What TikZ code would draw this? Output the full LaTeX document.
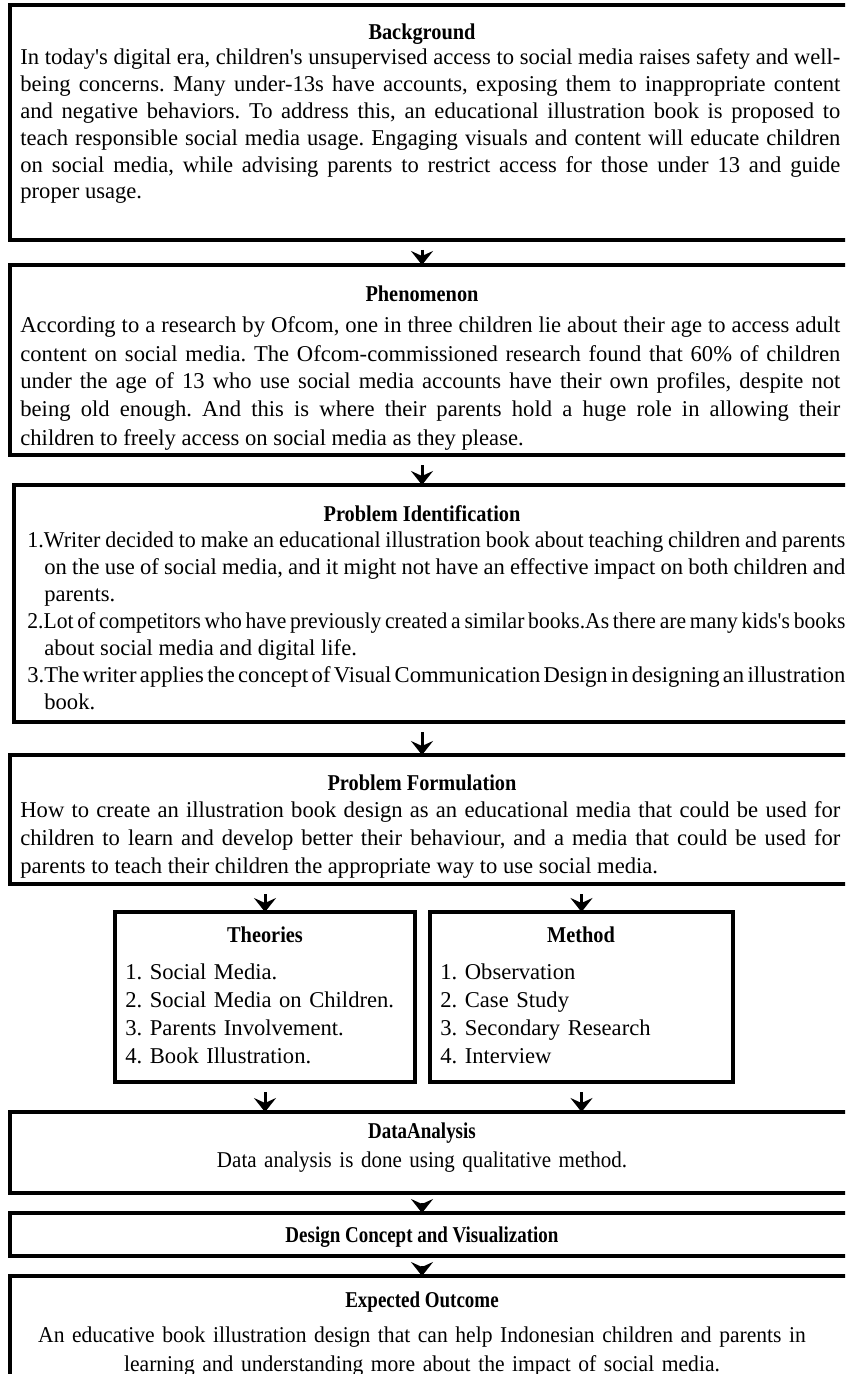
\documentclass[tikz,border=0pt]{standalone}
\usepackage{fontspec}
\setmainfont{Liberation Serif}[BoldFeatures={FakeStretch=0.9}]
\newfontfamily\narrowfont{Liberation Serif}[FakeStretch=0.93,BoldFeatures={FakeStretch=0.84}]
\newfontfamily\outcomefont{Liberation Serif}[FakeStretch=0.955]
\newfontfamily\tightfont{Liberation Serif}[FakeStretch=0.975]
\newfontfamily\tighterfont{Liberation Serif}[FakeStretch=0.955]
\usetikzlibrary{arrows.meta}
\usetikzlibrary{fit}

\newcommand{\apos}{\textquotesingle}
\newlength{\numw}
\frenchspacing

\begin{document}
\begin{tikzpicture}[x=0.5pt,y=0.5pt,yscale=-1,xscale=1,
  every node/.style={inner sep=0pt, font=\fontsize{11.3}{13.4}\selectfont},
  flowbox/.style={draw, line width=1.7pt, inner sep=0pt, outer sep=0pt},
  ttl/.style={anchor=base, font=\fontsize{11.3}{13.4}\selectfont\bfseries},
  body/.style={anchor=base west, text width=410pt, align=justify, font=\fontsize{11.3}{#1}\selectfont},
  body/.default=13.4,
  listtext/.style={anchor=base west, text width=140pt, align=left, font=\fontsize{11.3}{14}\selectfont},
  ctext/.style={anchor=base, text width=410pt, align=center, font=\narrowfont\fontsize{11.3}{14.5}\selectfont},
  nttl/.style={anchor=base, font=\narrowfont\fontsize{11.3}{13.4}\selectfont\bfseries},
  flowarr/.style={-{Stealth[length=7pt,width=11pt,inset=2.5pt]}, line width=1.5pt, shorten <=5pt}]
%set diagram size 845 x 1374
\clip (0,0) rectangle (845,1374);
\fill[white] (0,0) rectangle (845,1374);

%Shape: Rectangle [Background]
\node[flowbox, fit={(10,5) (852,240)}] (bgbox) {};
% Text Node
\node[ttl] (bgtitle) at (422,40) {Background};
% Text Node
\node[body] (bgtext) at (20,65) {In today\apos s digital era, children\apos s unsupervised access to social media raises safety and well-\linebreak
being concerns. Many under-13s have accounts, exposing them to inappropriate content\linebreak
and negative behaviors. To address this, an educational illustration book is proposed to\linebreak
teach responsible social media usage. Engaging visuals and content will educate children\linebreak
on social media, while advising parents to restrict access for those under 13 and guide\linebreak
proper usage.};

%Shape: Rectangle [Phenomenon]
\node[flowbox, fit={(10,265) (852,455)}] (phbox) {};
% Text Node
\node[ttl] (phtitle) at (422,302) {Phenomenon};
% Text Node
\node[body=14] (phtext) at (20,333) {According to a research by Ofcom, one in three children lie about their age to access adult\linebreak
content on social media. The Ofcom-commissioned research found that 60\% of children\linebreak
under the age of 13 who use social media accounts have their own profiles, despite not\linebreak
being old enough. And this is where their parents hold a huge role in allowing their\linebreak
children to freely access on social media as they please.};

%Shape: Rectangle [Problem Identification]
\node[flowbox, fit={(14,485) (852,722)}] (pibox) {};
% Text Node
\node[ttl] (pititle) at (422,521) {Problem Identification};
% Text Node
\node[body=13.5, text width=409pt] (pitext) at (27,547) {\vtop{\settowidth{\numw}{1.}%
\spaceskip=.25em plus .2em minus .14em
\hbox to \linewidth{\tightfont 1.Writer decided to make an educational illustration book about teaching children and parents}
\hbox to \linewidth{\hskip\numw on the use of social media, and it might not have an effective impact on both children and}
\hbox{\hskip\numw parents.}
\hbox to \linewidth{\tighterfont 2.Lot of competitors who have previously created a similar books.As there are many kids\apos s books}
\hbox{\hskip\numw about social media and digital life.}
\hbox to \linewidth{3.The writer applies the concept of Visual Communication Design in designing an illustration}
\hbox{\hskip\numw book.}}};

%Shape: Rectangle [Problem Formulation]
\node[flowbox, fit={(10,755) (852,884)}] (pfbox) {};
% Text Node
\node[ttl] (pftitle) at (422,790) {Problem Formulation};
% Text Node
\node[body=14] (pftext) at (20,817) {How to create an illustration book design as an educational media that could be used for\linebreak
children to learn and develop better their behaviour, and a media that could be used for\linebreak
parents to teach their children the appropriate way to use social media.};

%Shape: Rectangle [Theories]
\node[flowbox, fit={(115,912) (415,1082)}] (thbox) {};
% Text Node
\node[ttl] (thtitle) at (265,942) {Theories};
% Text Node
\node[listtext] (thtext) at (125,979) {1. Social Media.\\ 2. Social Media on Children.\\ 3. Parents Involvement.\\ 4. Book Illustration.};

%Shape: Rectangle [Method]
\node[flowbox, fit={(430,912) (733,1082)}] (mebox) {};
% Text Node
\node[ttl] (metitle) at (581,942) {Method};
% Text Node
\node[listtext] (metext) at (440,979) {1. Observation\\ 2. Case Study\\ 3. Secondary Research\\ 4. Interview};

%Shape: Rectangle [Data Analysis]
\node[flowbox, fit={(10,1112) (852,1193)}] (dabox) {};
% Text Node
\node[nttl] (datitle) at (422,1138) {DataAnalysis};
% Text Node
\node[ctext] (datext) at (422,1167) {Data analysis is done using qualitative method.};

%Shape: Rectangle [Design Concept]
\node[flowbox, fit={(10,1213) (852,1256)}] (dcbox) {};
% Text Node
\node[nttl] (dctitle) at (422,1242) {Design Concept and Visualization};

%Shape: Rectangle [Expected Outcome]
\node[flowbox, fit={(10,1276) (852,1400)}] (eobox) {};
% Text Node
\node[nttl] (eotitle) at (422,1307) {Expected Outcome};
% Text Node
\node[ctext, font=\outcomefont\fontsize{11.3}{14.5}\selectfont] (eotext) at (422,1342) {An educative book illustration design that can help Indonesian children and parents in\\ learning and understanding more about the impact of social media.};

% Arrows
\draw[flowarr] (bgtitle |- bgbox.south) -- (phtitle |- phbox.north);
\draw[flowarr] (phtitle |- phbox.south) -- (pititle |- pibox.north);
\draw[flowarr] (pititle |- pibox.south) -- (pftitle |- pfbox.north);
\draw[flowarr] (thbox.north |- pfbox.south) -- (thbox.north);
\draw[flowarr] (mebox.north |- pfbox.south) -- (mebox.north);
\draw[flowarr] (thbox.south) -- (thbox.south |- dabox.north);
\draw[flowarr] (mebox.south) -- (mebox.south |- dabox.north);
\draw[flowarr] (datitle |- dabox.south) -- (dctitle |- dcbox.north);
\draw[flowarr] (dctitle |- dcbox.south) -- (eotitle |- eobox.north);

\end{tikzpicture}
\end{document}
